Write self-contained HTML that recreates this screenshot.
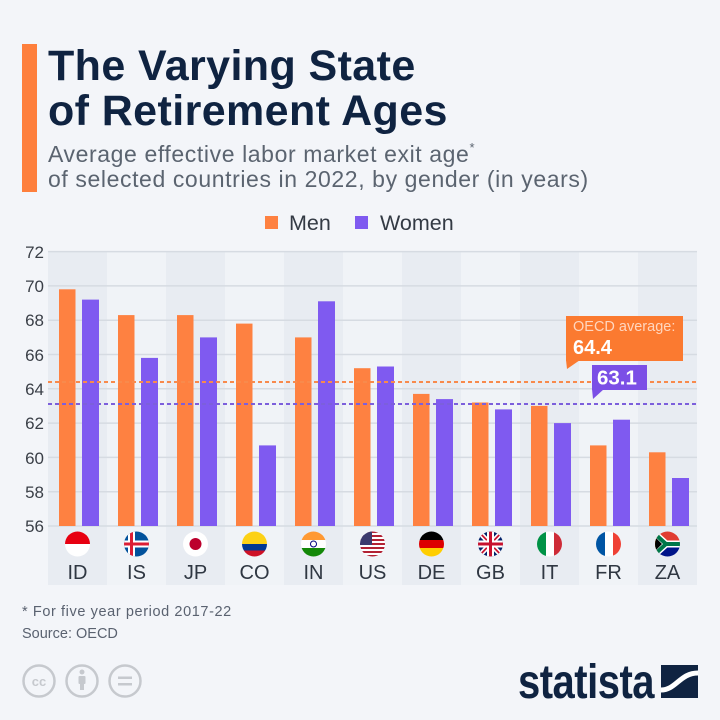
<!DOCTYPE html>
<html><head><meta charset="utf-8"><style>
html,body{margin:0;padding:0;background:#f3f5f9;}
svg{display:block;font-family:"Liberation Sans",Arial,sans-serif;}
</style></head><body>
<svg width="720" height="720" viewBox="0 0 720 720" xmlns="http://www.w3.org/2000/svg">
<defs>
<clipPath id="c0"><circle cx="77.5" cy="544" r="12.5"/></clipPath>
<clipPath id="c1"><circle cx="136.5" cy="544" r="12.5"/></clipPath>
<clipPath id="c2"><circle cx="195.5" cy="544" r="12.5"/></clipPath>
<clipPath id="c3"><circle cx="254.5" cy="544" r="12.5"/></clipPath>
<clipPath id="c4"><circle cx="313.5" cy="544" r="12.5"/></clipPath>
<clipPath id="c5"><circle cx="372.5" cy="544" r="12.5"/></clipPath>
<clipPath id="c6"><circle cx="431.5" cy="544" r="12.5"/></clipPath>
<clipPath id="c7"><circle cx="490.5" cy="544" r="12.5"/></clipPath>
<clipPath id="c8"><circle cx="549.5" cy="544" r="12.5"/></clipPath>
<clipPath id="c9"><circle cx="608.5" cy="544" r="12.5"/></clipPath>
<clipPath id="c10"><circle cx="667.5" cy="544" r="12.5"/></clipPath>
</defs>
<rect width="720" height="720" fill="#f3f5f9"/>

<!-- header -->
<rect x="22" y="44" width="15" height="148" fill="#fe7f3c"/>
<text x="48" y="80" font-size="43" font-weight="bold" fill="#0f2341" letter-spacing="0.4">The Varying State</text>
<text x="48" y="125" font-size="43" font-weight="bold" fill="#0f2341" letter-spacing="0.4">of Retirement Ages</text>
<text x="48" y="162" font-size="23" fill="#5b6470" letter-spacing="0.6">Average effective labor market exit age<tspan font-size="13" dy="-10">*</tspan></text>
<text x="48" y="187" font-size="23" fill="#5b6470" letter-spacing="0.6">of selected countries in 2022, by gender (in years)</text>

<!-- legend -->
<rect x="265" y="216" width="13" height="13" fill="#fe8141"/>
<text x="289" y="230" font-size="21.5" fill="#333a44">Men</text>
<rect x="355" y="216" width="13" height="13" fill="#7f5af0"/>
<text x="380" y="230" font-size="21.5" fill="#333a44">Women</text>

<!-- bands -->
<g>
<rect x="48" y="251" width="59" height="334" fill="#e8ecf2"/>
<rect x="107" y="251" width="59" height="334" fill="#f0f3f7"/>
<rect x="166" y="251" width="59" height="334" fill="#e8ecf2"/>
<rect x="225" y="251" width="59" height="334" fill="#f0f3f7"/>
<rect x="284" y="251" width="59" height="334" fill="#e8ecf2"/>
<rect x="343" y="251" width="59" height="334" fill="#f0f3f7"/>
<rect x="402" y="251" width="59" height="334" fill="#e8ecf2"/>
<rect x="461" y="251" width="59" height="334" fill="#f0f3f7"/>
<rect x="520" y="251" width="59" height="334" fill="#e8ecf2"/>
<rect x="579" y="251" width="59" height="334" fill="#f0f3f7"/>
<rect x="638" y="251" width="59" height="334" fill="#e8ecf2"/>
</g>

<!-- gridlines -->
<g stroke="#d6dbe2" stroke-width="1.5">
<line x1="48" x2="697" y1="251.6" y2="251.6"/>
<line x1="48" x2="697" y1="285.9" y2="285.9"/>
<line x1="48" x2="697" y1="320.2" y2="320.2"/>
<line x1="48" x2="697" y1="354.5" y2="354.5"/>
<line x1="48" x2="697" y1="388.8" y2="388.8"/>
<line x1="48" x2="697" y1="423.1" y2="423.1"/>
<line x1="48" x2="697" y1="457.4" y2="457.4"/>
<line x1="48" x2="697" y1="491.7" y2="491.7"/>
<line x1="48" x2="697" y1="526" y2="526"/>
</g>
<g font-size="17" fill="#3a3f47" text-anchor="end">
<text x="44" y="258">72</text>
<text x="44" y="292">70</text>
<text x="44" y="326">68</text>
<text x="44" y="361">66</text>
<text x="44" y="395">64</text>
<text x="44" y="429">62</text>
<text x="44" y="464">60</text>
<text x="44" y="498">58</text>
<text x="44" y="532">56</text>
</g>

<!-- bars -->
<g fill="#fe8141">
<rect x="59" y="289.3" width="16.5" height="236.7"/>
<rect x="118" y="315.1" width="16.5" height="210.9"/>
<rect x="177" y="315.1" width="16.5" height="210.9"/>
<rect x="236" y="323.6" width="16.5" height="202.4"/>
<rect x="295" y="337.4" width="16.5" height="188.6"/>
<rect x="354" y="368.2" width="16.5" height="157.8"/>
<rect x="413" y="393.9" width="16.5" height="132.1"/>
<rect x="472" y="402.5" width="16.5" height="123.5"/>
<rect x="531" y="405.9" width="16.5" height="120.1"/>
<rect x="590" y="445.4" width="16.5" height="80.6"/>
<rect x="649" y="452.3" width="16.5" height="73.7"/>
</g>
<g fill="#7f5af0">
<rect x="82" y="299.6" width="17" height="226.4"/>
<rect x="141" y="357.9" width="17" height="168.1"/>
<rect x="200" y="337.4" width="17" height="188.6"/>
<rect x="259" y="445.4" width="17" height="80.6"/>
<rect x="318" y="301.3" width="17" height="224.7"/>
<rect x="377" y="366.5" width="17" height="159.5"/>
<rect x="436" y="399.1" width="17" height="126.9"/>
<rect x="495" y="409.4" width="17" height="116.6"/>
<rect x="554" y="423.1" width="17" height="102.9"/>
<rect x="613" y="419.7" width="17" height="106.3"/>
<rect x="672" y="478" width="17" height="48"/>
</g>

<!-- average lines -->
<line x1="48" x2="697" y1="382" y2="382" stroke="#f88a4c" stroke-width="2" stroke-dasharray="4 3"/>
<line x1="48" x2="697" y1="404" y2="404" stroke="#7c5fdc" stroke-width="2" stroke-dasharray="4 3"/>

<!-- callouts -->
<rect x="566" y="316" width="117" height="45" fill="#fb7a30"/>
<polygon points="566,360 580,360 567,369" fill="#fb7a30"/>
<text x="573" y="331" font-size="14.5" fill="#ffd6bf">OECD average:</text>
<text x="573" y="354" font-size="20" font-weight="bold" fill="#ffffff">64.4</text>
<rect x="592" y="365" width="55" height="25" fill="#7b4fe6"/>
<polygon points="592,389 604,389 593,399" fill="#7b4fe6"/>
<text x="597" y="384.5" font-size="20.5" font-weight="bold" fill="#ffffff">63.1</text>

<!-- flags -->
<g clip-path="url(#c0)"><rect x="65" y="531" width="25" height="13" fill="#e70011"/><rect x="65" y="544" width="25" height="13" fill="#ffffff"/></g>
<g clip-path="url(#c1)"><rect x="124" y="531" width="25" height="26" fill="#02529c"/>
<rect x="128" y="531" width="7" height="26" fill="#fff"/><rect x="124" y="540.5" width="25" height="7" fill="#fff"/>
<rect x="130" y="531" width="3" height="26" fill="#dc1e35"/><rect x="124" y="542.5" width="25" height="3" fill="#dc1e35"/></g>
<g clip-path="url(#c2)"><rect x="183" y="531" width="25" height="26" fill="#fff"/><circle cx="195.5" cy="544" r="6" fill="#bc002d"/></g>
<g clip-path="url(#c3)"><rect x="242" y="531" width="25" height="13" fill="#fcd116"/><rect x="242" y="544" width="25" height="6.5" fill="#003893"/><rect x="242" y="550.5" width="25" height="7" fill="#ce1126"/></g>
<g clip-path="url(#c4)"><rect x="301" y="531" width="25" height="9" fill="#ff9933"/><rect x="301" y="540" width="25" height="8" fill="#fff"/><rect x="301" y="548" width="25" height="9" fill="#138808"/><circle cx="313.5" cy="544" r="3" fill="none" stroke="#000080" stroke-width="1"/></g>
<g clip-path="url(#c5)"><rect x="360" y="531" width="25" height="26" fill="#fff"/>
<rect x="360" y="531" width="25" height="2" fill="#b22234"/><rect x="360" y="535" width="25" height="2" fill="#b22234"/><rect x="360" y="539" width="25" height="2" fill="#b22234"/><rect x="360" y="543" width="25" height="2" fill="#b22234"/><rect x="360" y="547" width="25" height="2" fill="#b22234"/><rect x="360" y="551" width="25" height="2" fill="#b22234"/><rect x="360" y="555" width="25" height="2" fill="#b22234"/>
<rect x="360" y="531" width="12" height="14" fill="#3c3b6e"/></g>
<g clip-path="url(#c6)"><rect x="419" y="531" width="25" height="9" fill="#000"/><rect x="419" y="540" width="25" height="8" fill="#dd0000"/><rect x="419" y="548" width="25" height="9" fill="#ffce00"/></g>
<g clip-path="url(#c7)"><rect x="478" y="531" width="25" height="26" fill="#012169"/>
<line x1="478" y1="531" x2="503" y2="557" stroke="#fff" stroke-width="5"/><line x1="503" y1="531" x2="478" y2="557" stroke="#fff" stroke-width="5"/>
<line x1="478" y1="531" x2="503" y2="557" stroke="#c8102e" stroke-width="1.7"/><line x1="503" y1="531" x2="478" y2="557" stroke="#c8102e" stroke-width="1.7"/>
<rect x="487" y="531" width="7" height="26" fill="#fff"/><rect x="478" y="540.5" width="25" height="7" fill="#fff"/>
<rect x="489" y="531" width="3" height="26" fill="#c8102e"/><rect x="478" y="542.5" width="25" height="3" fill="#c8102e"/></g>
<g clip-path="url(#c8)"><rect x="537" y="531" width="9" height="26" fill="#009246"/><rect x="546" y="531" width="8" height="26" fill="#fff"/><rect x="554" y="531" width="9" height="26" fill="#ce2b37"/></g>
<g clip-path="url(#c9)"><rect x="596" y="531" width="9" height="26" fill="#0055a4"/><rect x="605" y="531" width="8" height="26" fill="#fff"/><rect x="613" y="531" width="9" height="26" fill="#ef4135"/></g>
<g clip-path="url(#c10)"><rect x="655" y="531" width="25" height="13" fill="#e03c31"/><rect x="655" y="544" width="25" height="13" fill="#001489"/>
<polygon points="655,533 667,544 655,555" fill="#ffb612"/>
<path d="M655,534 L666,544 L655,554 M664,544 L681,544" stroke="#fff" stroke-width="7" fill="none"/>
<path d="M655,534 L666,544 L655,554 M664,544 L681,544" stroke="#007749" stroke-width="4" fill="none"/>
<polygon points="655,537 662,544 655,551" fill="#000"/></g>

<!-- country labels -->
<g font-size="20" fill="#2f3742" text-anchor="middle">
<text x="77.5" y="579">ID</text>
<text x="136.5" y="579">IS</text>
<text x="195.5" y="579">JP</text>
<text x="254.5" y="579">CO</text>
<text x="313.5" y="579">IN</text>
<text x="372.5" y="579">US</text>
<text x="431.5" y="579">DE</text>
<text x="490.5" y="579">GB</text>
<text x="549.5" y="579">IT</text>
<text x="608.5" y="579">FR</text>
<text x="667.5" y="579">ZA</text>
</g>

<!-- footer -->
<text x="22" y="616" font-size="14.5" fill="#5a6270" letter-spacing="0.6">* For five year period 2017-22</text>
<text x="22" y="638" font-size="14.5" fill="#5a6270">Source: OECD</text>

<g fill="none" stroke="#c6c9ce" stroke-width="2.5">
<circle cx="39" cy="681" r="15.5"/>
<circle cx="82" cy="681" r="15.5"/>
<circle cx="125" cy="681" r="15.5"/>
</g>
<text x="39" y="686" font-size="13" font-weight="bold" fill="#c6c9ce" text-anchor="middle">cc</text>
<circle cx="82" cy="672" r="2.5" fill="#c6c9ce"/>
<rect x="78.5" y="676" width="7" height="8" rx="1" fill="#c6c9ce"/>
<rect x="80" y="683" width="4" height="7" fill="#c6c9ce"/>
<rect x="118" y="676.5" width="14" height="2.5" fill="#c6c9ce"/>
<rect x="118" y="683" width="14" height="2.5" fill="#c6c9ce"/>

<text transform="translate(518,698) scale(1,1.2)" font-size="40" font-weight="bold" fill="#0f2341" letter-spacing="-0.5">statista</text>
<rect x="661" y="665" width="37" height="33" fill="#0f2341"/>
<path d="M661,690 C676,690 680,673 698,673" stroke="#ffffff" stroke-width="5" fill="none"/>
</svg>
</body></html>
